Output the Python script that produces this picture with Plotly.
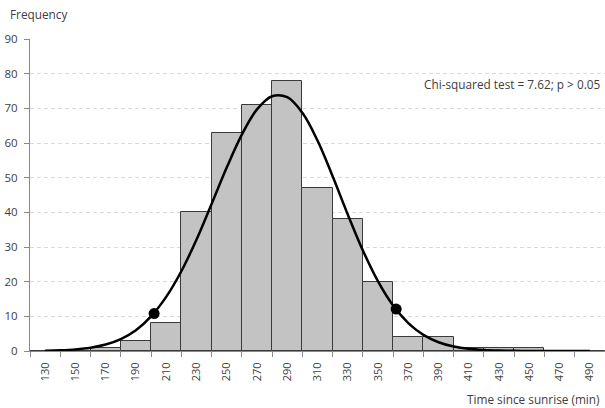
import plotly.graph_objects as go

# Histogram bins (labelled by bin centre, minutes since sunrise)
bin_centers = [130, 150, 170, 190, 210, 230, 250, 270, 290, 310, 330, 350, 370, 390, 410, 430, 450, 470, 490]
frequencies = [0, 0, 1, 3, 8, 40, 63, 71, 78, 47, 38, 20, 4, 4, 1, 1, 1, 0, 0]

# Fitted curve
curve_x = [130, 140, 150, 160, 170, 180, 190, 200, 210, 220, 230, 240, 250, 260, 270, 280,
           290, 300, 310, 320, 330, 340, 350, 360, 370, 380, 390, 400, 410, 420, 430, 440,
           450, 460, 470, 480, 490]
curve_y = [0.09, 0.21, 0.46, 0.95, 1.86, 3.44, 6.0, 10.0, 15.6, 23.0, 32.1, 42.4, 52.9, 62.4, 69.7, 73.5,
           73.2, 68.7, 60.7, 50.4, 39.4, 29.0, 20.1, 13.1, 8.05, 4.65, 2.53, 1.29, 0.62, 0.28, 0.12, 0.05,
           0.02, 0.01, 0.0, 0.0, 0.0]

# Marked points on the curve
marker_x = [202, 362]
marker_y = [10.8, 12.1]

x_ticks = list(range(130, 491, 20))
x_edges = list(range(120, 501, 20))
y_ticks = list(range(0, 91, 10))

FONT = "Open Sans"
TXT = "#404040"
AX = "#898989"

fig = go.Figure()
fig.add_trace(go.Bar(
    x=bin_centers, y=frequencies, width=20,
    marker=dict(color="#c3c3c3", line=dict(color="#3a3a3a", width=1)),
    showlegend=False, hoverinfo="x+y"))
fig.add_trace(go.Scatter(
    x=curve_x, y=curve_y, mode="lines", line=dict(color="black", width=2.5, shape="spline"),
    showlegend=False))
fig.add_trace(go.Scatter(
    x=marker_x, y=marker_y, mode="markers", marker=dict(color="black", size=11),
    showlegend=False))

# plot area in page pixels
L, R, T, B = 30, 0, 39, 57
W, H = 605, 408
PW, PH = W - L - R, H - T - B

fig.update_layout(
    width=W, height=H,
    margin=dict(l=L, r=R, t=T, b=B, pad=0),
    paper_bgcolor="white", plot_bgcolor="white",
    font=dict(family=FONT, size=11, color=TXT),
    bargap=0,
    xaxis=dict(
        range=[120, 500], tickmode="array", tickvals=x_ticks,
        ticktext=[str(v) for v in x_ticks], tickangle=-90, ticks="",
        ticklabelstandoff=6,
        showgrid=False, zeroline=False, showline=True, linecolor=AX, linewidth=1,
        tickfont=dict(family=FONT, size=11, color=TXT),
        minor=dict(tickmode="array", tickvals=x_edges, ticks="outside", ticklen=5,
                   tickcolor=AX, tickwidth=1, showgrid=False),
    ),
    yaxis=dict(
        range=[0, 90], tickmode="array", tickvals=y_ticks, ticks="outside", ticklen=5,
        ticklabelstandoff=4,
        tickcolor=AX, showline=True, linecolor=AX, linewidth=1, zeroline=False,
        showgrid=True, gridcolor="#d9d9d9", griddash="4px,3px", gridwidth=1,
        tickfont=dict(family=FONT, size=11.5, color=TXT),
    ),
    annotations=[
        dict(text="Frequency", xref="paper", yref="paper", x=(8 - L) / PW, y=(H - B - 14) / PH,
             xanchor="left", yanchor="middle", showarrow=False,
             font=dict(family=FONT, size=11.8, color=TXT)),
        dict(text="Chi-squared test = 7.62; p > 0.05", xref="paper", yref="paper",
             x=(603 - L) / PW, y=(H - B - 84) / PH, xanchor="right", yanchor="middle", showarrow=False,
             font=dict(family=FONT, size=11.8, color=TXT)),
        dict(text="Time since sunrise (min)", xref="paper", yref="paper",
             x=(602 - L) / PW, y=(H - B - 399) / PH, xanchor="right", yanchor="middle", showarrow=False,
             font=dict(family=FONT, size=11.8, color=TXT)),
    ],
)

fig.write_html(
    "out.html",
    config={"displayModeBar": False},
    post_script="document.body.style.margin='0';document.body.style.overflow='hidden';",
)
